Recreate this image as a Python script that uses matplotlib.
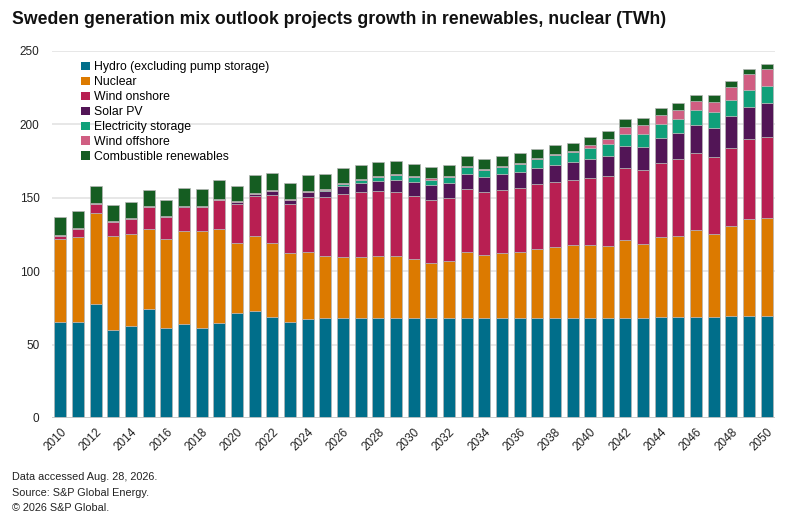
import numpy as np
import matplotlib
matplotlib.use('Agg')
import matplotlib.pyplot as plt

plt.rcParams['font.family'] = ['Liberation Sans', 'DejaVu Sans']

# Sweden generation mix, TWh
years = list(range(2010, 2051))

hydro = [65.7, 65.5, 77.8, 60.1, 62.8, 74.1, 61.2, 64.2, 61.4, 64.6,
         71.7, 72.8, 68.9, 65.5, 67.3, 68.1, 68.1, 68.1, 68.1, 68.1,
         68.1, 68.1, 68.1, 68.1, 68.1, 68.1, 68.1, 68.1, 68.1, 68.1,
         68.1, 68.4, 68.4, 68.4, 68.7, 68.7, 68.9, 68.9, 69.3, 69.3, 69.5]
nuclear = [55.9, 58.1, 61.5, 64.0, 62.2, 54.8, 60.6, 63.1, 65.9, 64.3,
           47.2, 51.5, 50.0, 46.8, 46.1, 42.5, 41.8, 41.3, 42.3, 42.3,
           40.0, 37.3, 38.6, 45.2, 43.0, 44.5, 45.2, 47.0, 48.6, 49.5,
           49.5, 49.0, 53.1, 50.4, 54.3, 55.6, 59.3, 56.1, 61.7, 66.5, 67.0]
wind_onshore = [2.6, 5.4, 6.3, 9.3, 10.3, 15.0, 14.9, 16.6, 16.1, 19.3,
                27.0, 26.8, 33.1, 33.6, 36.8, 39.7, 42.9, 44.6, 44.0, 43.8,
                43.4, 43.3, 43.2, 42.9, 42.6, 42.9, 43.4, 44.1, 44.3, 44.8,
                46.1, 47.2, 48.6, 49.9, 50.8, 52.0, 52.0, 52.7, 53.2, 54.5, 55.2]
solar_pv = [0.0, 0.0, 0.0, 0.0, 0.0, 0.1, 0.1, 0.2, 0.3, 0.5,
            1.1, 1.5, 2.3, 2.7, 3.6, 4.1, 5.5, 6.1, 7.3, 8.2,
            9.0, 9.8, 9.9, 10.0, 10.2, 10.7, 10.6, 11.3, 11.6, 12.0,
            12.7, 13.9, 15.0, 15.9, 16.8, 17.7, 19.3, 20.0, 21.3, 21.6, 22.7]
storage = [0.0, 0.0, 0.0, 0.0, 0.0, 0.0, 0.0, 0.0, 0.0, 0.0,
           0.0, 0.0, 0.1, 0.2, 0.4, 0.9, 1.1, 2.3, 2.7, 3.2,
           3.7, 3.9, 4.1, 4.5, 5.1, 5.0, 6.0, 6.2, 6.8, 7.0,
           7.5, 7.9, 8.1, 8.6, 9.5, 9.8, 10.2, 10.6, 10.9, 11.6, 11.7]
wind_offshore = [0.5, 0.5, 0.6, 0.5, 0.6, 0.6, 0.6, 0.6, 0.6, 0.6,
                 0.5, 0.6, 0.6, 0.6, 0.7, 0.9, 0.9, 0.6, 0.7, 0.9,
                 0.6, 0.9, 0.7, 0.7, 0.6, 0.7, 0.6, 0.6, 0.7, 0.7,
                 2.0, 3.7, 5.3, 6.6, 6.2, 6.1, 5.9, 6.8, 8.8, 10.9, 11.4]
combustible = [12.0, 11.4, 12.0, 11.1, 10.9, 10.8, 11.2, 12.1, 11.6, 12.9,
               10.7, 12.5, 12.0, 10.5, 10.8, 10.3, 9.8, 9.4, 9.1, 8.3,
               8.2, 7.7, 7.5, 7.1, 6.9, 6.8, 6.4, 5.9, 5.6, 5.5,
               5.3, 5.2, 5.2, 4.8, 4.7, 4.8, 4.6, 4.6, 4.1, 3.6, 3.9]

series = [
    ('Hydro (excluding pump storage)', hydro, '#006e8a'),
    ('Nuclear', nuclear, '#dc7a00'),
    ('Wind onshore', wind_onshore, '#b81f52'),
    ('Solar PV', solar_pv, '#521556'),
    ('Electricity storage', storage, '#10a07a'),
    ('Wind offshore', wind_offshore, '#d05e82'),
    ('Combustible renewables', combustible, '#155d22'),
]

fig = plt.figure(figsize=(8, 5.24), dpi=100)
ax = fig.add_axes([0.065, 0.2023, 0.904, 0.7004])

bottom = np.zeros(len(years))
for name, vals, col in series:
    ax.bar(years, vals, bottom=bottom, width=0.68, color=col, label=name,
           edgecolor='#b5b5b5', linewidth=0.5)
    bottom += np.array(vals)

ax.set_ylim(0, 250)
ax.set_xlim(2010 - 0.48, 2050 + 0.48)
ax.set_yticks([0, 50, 100, 150, 200, 250])
ax.set_xticks(years[::2])
ax.set_xticklabels([str(y) for y in years[::2]], rotation=45, ha='right',
                   va='top', rotation_mode='anchor')
ax.tick_params(axis='both', length=0, labelsize=8.5, colors='#222222')
ax.tick_params(axis='y', pad=9)
ax.tick_params(axis='x', pad=6)

for s in ax.spines.values():
    s.set_visible(False)
ax.yaxis.grid(True, color='#e3e3e3', linewidth=1.2)
ax.set_axisbelow(True)
ax.axhline(0, color='#c8c8c8', linewidth=2, zorder=3)

leg = ax.legend(loc='upper left', bbox_to_anchor=(0.034, 0.985), frameon=False,
                fontsize=8.8, handlelength=0.7, handleheight=0.7,
                handletextpad=0.3, labelspacing=0.24, borderaxespad=0)
for h in leg.legend_handles:
    h.set_edgecolor('none')

fig.text(0.015, 1 - 11 / 524, 'Sweden generation mix outlook projects growth in renewables, nuclear (TWh)',
         fontsize=12.7, fontweight='bold', va='top', ha='left', color='#111111')

fig.text(0.015, 1 - 477 / 524, 'Data accessed Aug. 28, 2026.', fontsize=7.8, va='center', color='#222222')
fig.text(0.015, 1 - 493 / 524, 'Source: S&P Global Energy.', fontsize=7.8, va='center', color='#222222')
fig.text(0.015, 1 - 508 / 524, '\u00a9 2026 S&P Global.', fontsize=7.8, va='center', color='#222222')

fig.savefig('out.png', dpi=100)
